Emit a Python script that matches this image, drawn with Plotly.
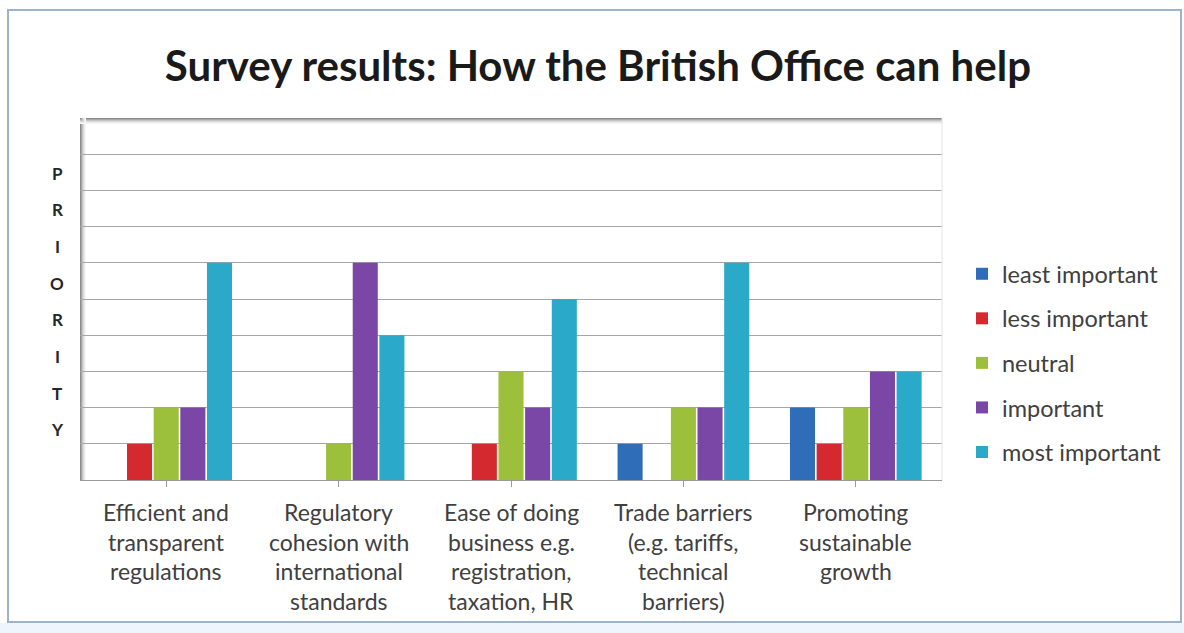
import plotly.graph_objects as go

categories = [
    "Efficient and<br>transparent<br>regulations",
    "Regulatory<br>cohesion with<br>international<br>standards",
    "Ease of doing<br>business e.g.<br>registration,<br>taxation, HR",
    "Trade barriers<br>(e.g. tariffs,<br>technical<br>barriers)",
    "Promoting<br>sustainable<br>growth",
]
series_names = ["least important", "less important", "neutral", "important", "most important"]
least_important = [0, 0, 0, 1, 2]
less_important = [1, 0, 1, 0, 1]
neutral = [2, 1, 3, 2, 2]
important = [2, 6, 2, 2, 3]
most_important = [6, 4, 5, 6, 3]
series_values = [least_important, less_important, neutral, important, most_important]
axis_title = "PRIORITY"
colors = ["#2F6DB8", "#D42A2F", "#9CC03C", "#7A47A6", "#2BA9C9"]

W, H = 1184, 633
L, R, T, B = 80, 942, 118, 480


def px_x(p):
    return (p - L) / (R - L)


def px_y(p):
    return (B - p) / (B - T)


fig = go.Figure()
for i, (name, vals) in enumerate(zip(series_names, series_values)):
    fig.add_trace(go.Bar(
        x=list(range(len(categories))), y=vals, name=name,
        marker=dict(color=colors[i], line=dict(width=0)),
        legendgroup=name,
    ))

shapes = []
# outer frame
shapes.append(dict(type="rect", xref="paper", yref="paper",
                   x0=px_x(8), x1=px_x(1181), y0=px_y(10), y1=px_y(622),
                   line=dict(color="#9DB2CC", width=2), fillcolor="rgba(0,0,0,0)", layer="below"))
shapes.append(dict(type="rect", xref="paper", yref="paper",
                   x0=px_x(0), x1=px_x(W), y0=px_y(623), y1=px_y(H),
                   line=dict(width=0), fillcolor="#EEF5FC", layer="below"))
# 3D wall edges (left and top)
grays = ["#8A8A8A", "#A8A8A8", "#C4C4C4", "#DADADA", "#EBEBEB", "#F6F6F6"]
for k, g in enumerate(grays):
    shapes.append(dict(type="rect", xref="paper", yref="paper",
                       x0=px_x(L + k), x1=px_x(L + k + 1), y0=px_y(B), y1=px_y(T),
                       line=dict(width=0), fillcolor=g, layer="below"))
    shapes.append(dict(type="rect", xref="paper", yref="paper",
                       x0=px_x(L), x1=px_x(R), y0=px_y(T + k), y1=px_y(T + k + 1),
                       line=dict(width=0), fillcolor=g, layer="below"))
shapes.append(dict(type="line", xref="paper", yref="paper",
                   x0=1, x1=1, y0=0, y1=1, line=dict(color="#E4E4E4", width=1)))

annotations = []
# category labels, one line per annotation for Office-like line spacing
for ci, cat in enumerate(categories):
    for li, line in enumerate(cat.split("<br>")):
        annotations.append(dict(
            x=ci, xref="x", y=0, yref="paper", yanchor="middle", xanchor="center",
            yshift=-(32 + li * 29.6), text=line, showarrow=False,
            font=dict(family="Lato", size=23, color="#404040"),
        ))
# vertical axis title, stacked letters
for k, ch in enumerate(axis_title):
    annotations.append(dict(
        x=px_x(57), xref="paper", y=px_y(173 + k * 36.7), yref="paper",
        xanchor="center", yanchor="middle", text="<b>" + ch + "</b>", showarrow=False,
        font=dict(family="Lato", size=17, color="#262626"),
    ))

fig.update_layout(
    width=W, height=H,
    margin=dict(l=L, r=W - R, t=T, b=H - B),
    paper_bgcolor="white", plot_bgcolor="white",
    title=dict(text="<b>Survey results: How the British Office can help</b>",
               x=0.505, xanchor="center", y=1 - 66 / H, yanchor="middle",
               font=dict(family="Lato", size=42, color="#1A1A1A")),
    barmode="group", bargap=0.227, bargroupgap=0.06,
    showlegend=True,
    legend=dict(x=px_x(962), y=px_y(252), xanchor="left", yanchor="top",
                font=dict(family="Lato", size=23.5, color="#404040"),
                tracegroupgap=11, bgcolor="rgba(0,0,0,0)"),
    xaxis=dict(range=[-0.5, 4.5], tickvals=list(range(5)), ticktext=[""] * 5,
               showgrid=False, showline=True, linecolor="#9A9A9A", linewidth=1,
               ticks="outside", ticklen=6, tickcolor="#9A9A9A", tickson="boundaries",
               zeroline=False, fixedrange=True),
    yaxis=dict(range=[0, 10], dtick=1, showticklabels=False, showgrid=True,
               gridcolor="#A6A6A6", gridwidth=1, zeroline=False, showline=False,
               ticks=""),
    shapes=shapes, annotations=annotations,
)

fig.write_html("out.html")
